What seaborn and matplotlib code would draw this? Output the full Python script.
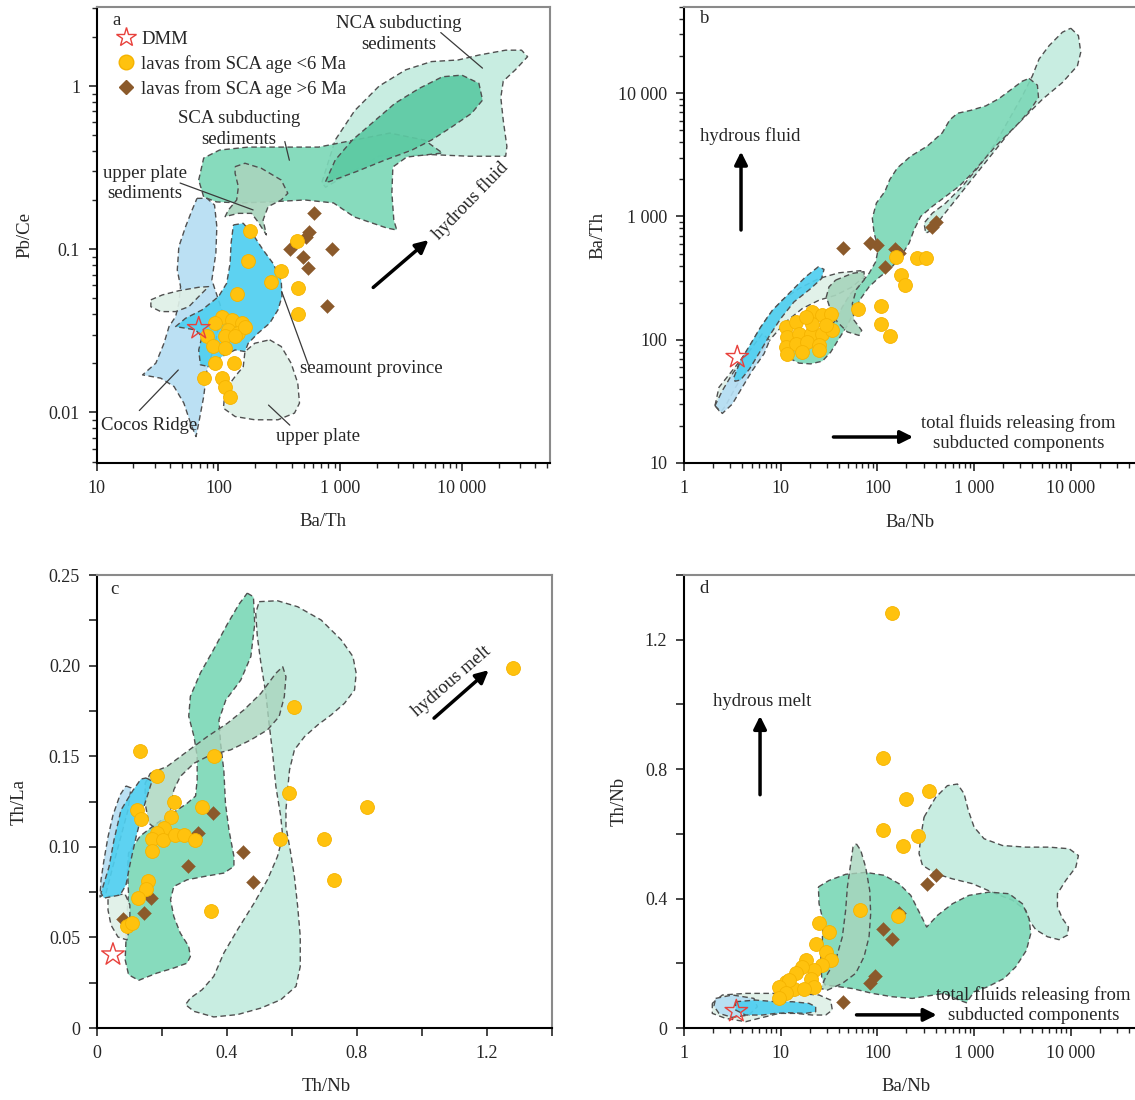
import numpy as np
import pandas as pd
import matplotlib
matplotlib.use("Agg")
import matplotlib.pyplot as plt
import seaborn as sns
from matplotlib.lines import Line2D
from matplotlib.ticker import FuncFormatter, MultipleLocator, NullFormatter

sns.set_style("ticks")
plt.rcParams['font.family'] = ['Liberation Serif', 'DejaVu Serif']
plt.rcParams['font.size'] = 13

TXT = 13.5

# ---------------- colours ----------------
COL_NCA_PALE = '#c4ecdf'
COL_SCA = '#7dd8b8'
COL_NCA_DARK = '#5ccaa3'
COL_UPS = '#a8d5bd'
COL_UP = '#dff0e8'
COL_COCOS = '#b5def3'
COL_SEAMOUNT = '#4fcff0'
YELLOW = '#ffc20e'
BROWN = '#8b5a2b'
STAR = '#e8413c'

# ================= PANEL a : Ba/Th vs Pb/Ce =================
A_YOUNG_BATH = [182, 176, 324, 272, 143, 441, 454, 454,
                107, 129, 155, 94, 121, 146, 165, 80.5, 114, 137, 91, 114, 94, 135, 76, 107, 114, 125]
A_YOUNG_PBCE = [0.129, 0.085, 0.074, 0.063, 0.053, 0.112, 0.058, 0.040,
                0.0386, 0.0369, 0.0352, 0.0352, 0.0321, 0.0306, 0.0336, 0.0292, 0.0292, 0.0292,
                0.0254, 0.0248, 0.020, 0.020, 0.0162, 0.0162, 0.0144, 0.0125]
A_OLD_BATH = [614, 558, 524, 384, 492, 541, 865, 787]
A_OLD_PBCE = [0.166, 0.128, 0.119, 0.101, 0.090, 0.0766, 0.100, 0.0446]
A_DMM = (68.9, 0.0328)

# field outlines, (log10 Ba/Th, log10 Pb/Ce)
A_NCA_OUTER = [(2.85, -0.59), (2.96, -0.33), (3.12, -0.15), (3.32, 0.0), (3.54, 0.10), (3.75, 0.15),
               (3.97, 0.16), (4.14, 0.19), (4.36, 0.22), (4.49, 0.22), (4.54, 0.18), (4.44, 0.10),
               (4.34, 0.03), (4.32, -0.07), (4.34, -0.21), (4.37, -0.37), (4.36, -0.43), (4.06, -0.43),
               (3.75, -0.42), (3.32, -0.43), (2.88, -0.62)]
A_NCA_INNER = [(2.88, -0.586), (2.96, -0.453), (3.10, -0.331), (3.26, -0.228), (3.45, -0.106),
               (3.65, -0.014), (3.84, 0.057), (4.00, 0.067), (4.14, 0.017), (4.17, -0.086),
               (4.08, -0.167), (3.92, -0.249), (3.75, -0.331), (3.59, -0.392), (3.37, -0.453),
               (3.13, -0.525), (2.91, -0.586)]
A_SCA = [(1.838, -0.576), (1.879, -0.441), (2.009, -0.392), (2.245, -0.374), (2.538, -0.374),
         (2.823, -0.374), (3.116, -0.331), (3.408, -0.288), (3.693, -0.331), (3.840, -0.410),
         (3.547, -0.435), (3.433, -0.496), (3.425, -0.655), (3.441, -0.821), (3.465, -0.882),
         (3.384, -0.870), (3.116, -0.802), (2.945, -0.716), (2.709, -0.698), (2.416, -0.710),
         (2.188, -0.716), (1.985, -0.710), (1.879, -0.680)]
A_UPS = [(2.137, -0.494), (2.218, -0.473), (2.353, -0.504), (2.516, -0.576), (2.570, -0.657),
         (2.516, -0.698), (2.408, -0.739), (2.367, -0.821), (2.394, -0.912), (2.326, -0.833),
         (2.272, -0.780), (2.164, -0.780), (2.055, -0.800), (2.082, -0.759), (2.150, -0.698),
         (2.164, -0.617), (2.137, -0.535)]
A_COCOS = [(1.824, -0.688), (1.906, -0.688), (1.968, -0.729), (1.987, -0.862), (1.979, -1.024),
           (1.946, -1.188), (2.028, -1.372), (1.974, -1.576), (1.906, -1.739), (1.879, -1.903),
           (1.838, -2.066), (1.816, -2.148), (1.771, -2.066), (1.716, -1.943), (1.635, -1.841),
           (1.526, -1.790), (1.377, -1.770), (1.486, -1.698), (1.553, -1.576), (1.594, -1.474),
           (1.648, -1.413), (1.675, -1.331), (1.689, -1.229), (1.662, -1.127), (1.675, -0.984),
           (1.730, -0.862), (1.784, -0.759)]
A_UP_SMALL = [(1.445, -1.310), (1.539, -1.280), (1.675, -1.254), (1.838, -1.233), (1.919, -1.229),
              (1.838, -1.290), (1.757, -1.352), (1.648, -1.382), (1.526, -1.382), (1.445, -1.352)]
A_UP = [(2.421, -1.555), (2.516, -1.596), (2.597, -1.698), (2.652, -1.821), (2.666, -1.943),
        (2.625, -2.004), (2.489, -2.045), (2.299, -2.045), (2.137, -2.025), (2.041, -1.974),
        (2.055, -1.862), (2.137, -1.780), (2.204, -1.719), (2.218, -1.627), (2.299, -1.576)]
A_SEAMOUNT = [(2.123, -0.851), (2.204, -0.841), (2.286, -0.912), (2.367, -1.004), (2.448, -1.086),
              (2.516, -1.188), (2.522, -1.290), (2.489, -1.372), (2.421, -1.453), (2.326, -1.514),
              (2.245, -1.576), (2.218, -1.627), (2.137, -1.617), (2.028, -1.658), (1.919, -1.719),
              (1.852, -1.708), (1.838, -1.617), (1.865, -1.535), (1.811, -1.494), (1.730, -1.484),
              (1.648, -1.474), (1.730, -1.423), (1.865, -1.372), (2.001, -1.290), (2.068, -1.208),
              (2.096, -1.086), (2.104, -0.963)]

# ================= PANEL b : Ba/Nb vs Ba/Th =================
B_YOUNG_BANB = [11.3, 14.3, 21.3, 27.0, 32.9, 11.7, 15.5, 20.4, 27.0, 34.2, 11.3, 14.3, 18.9, 24.9,
                11.7, 16.7, 24.9, 21.3, 29.2, 18.1, 63.6, 108, 108, 134, 155, 259, 316, 174, 193]
B_YOUNG_BATH = [127, 139, 168, 158, 163, 105, 112, 112, 112, 119, 87, 92.7, 95.7, 89.9,
                75.9, 79.2, 81.8, 135, 131, 153, 179, 187, 135, 108, 472, 457, 457, 334, 277]
B_OLD_BANB = [44.5, 84, 100, 152, 167, 119, 365, 401]
B_OLD_BATH = [552, 614, 587, 542, 502, 391, 818, 910]
B_DMM = (3.56, 72.2)

# field outlines, (log10 Ba/Nb, log10 Ba/Th)
B_NCA_PALE = [(4.0, 4.527), (4.079, 4.467), (4.103, 4.332), (4.069, 4.223), (3.914, 4.087),
              (3.707, 3.951), (3.534, 3.815), (3.362, 3.679), (3.224, 3.543), (3.086, 3.408),
              (2.948, 3.272), (2.810, 3.136), (2.672, 3.0), (2.569, 2.891), (2.5, 2.864),
              (2.483, 2.946), (2.569, 3.027), (2.707, 3.109), (2.879, 3.245), (3.052, 3.408),
              (3.224, 3.598), (3.362, 3.788), (3.5, 3.978), (3.603, 4.141), (3.672, 4.277),
              (3.776, 4.386), (3.914, 4.495)]
B_SCA = [(3.569, 4.120), (3.655, 4.065), (3.666, 3.965), (3.586, 3.870), (3.466, 3.761),
         (3.345, 3.666), (3.224, 3.571), (3.103, 3.462), (2.983, 3.353), (2.845, 3.245),
         (2.707, 3.163), (2.569, 3.082), (2.448, 3.0), (2.379, 2.891), (2.328, 2.783),
         (2.241, 2.674), (2.138, 2.579), (2.017, 2.505), (1.914, 2.429), (1.828, 2.334),
         (1.759, 2.226), (1.690, 2.117), (1.603, 2.008), (1.517, 1.899), (1.431, 1.826),
         (1.310, 1.804), (1.190, 1.810), (1.103, 1.845), (1.086, 1.913), (1.155, 1.967),
         (1.328, 2.022), (1.466, 2.076), (1.569, 2.158), (1.638, 2.266), (1.724, 2.375),
         (1.828, 2.457), (1.914, 2.538), (1.983, 2.633), (2.010, 2.742), (1.966, 2.864),
         (1.948, 2.986), (1.990, 3.109), (2.079, 3.204), (2.128, 3.299), (2.207, 3.394),
         (2.345, 3.489), (2.517, 3.571), (2.672, 3.679), (2.748, 3.783), (2.828, 3.837),
         (2.966, 3.861), (3.121, 3.897), (3.259, 3.957), (3.397, 4.038), (3.5, 4.098)]
B_UPS = [(1.569, 2.484), (1.741, 2.538), (1.862, 2.552), (1.866, 2.489), (1.783, 2.408),
         (1.741, 2.293), (1.759, 2.158), (1.838, 2.076), (1.810, 2.035), (1.690, 2.063),
         (1.586, 2.144), (1.517, 2.239), (1.472, 2.348), (1.5, 2.429)]
B_UP = [(0.321, 1.465), (0.362, 1.614), (0.5, 1.75), (0.638, 1.886), (0.776, 2.076), (0.879, 2.198),
        (1.017, 2.321), (1.190, 2.416), (1.397, 2.497), (1.603, 2.543), (1.828, 2.560),
        (1.862, 2.511), (1.741, 2.429), (1.569, 2.361), (1.397, 2.321), (1.224, 2.253),
        (1.052, 2.144), (0.914, 2.022), (0.776, 1.886), (0.638, 1.75), (0.534, 1.614),
        (0.431, 1.465), (0.379, 1.410)]
B_COCOS = [(0.321, 1.465), (0.397, 1.402), (0.5, 1.478), (0.603, 1.614), (0.707, 1.75), (0.828, 1.886),
           (0.886, 1.995), (0.810, 2.049), (0.707, 1.940), (0.603, 1.832), (0.5, 1.723), (0.397, 1.587)]
B_SEAMOUNT = [(0.517, 1.696), (0.586, 1.832), (0.690, 1.967), (0.793, 2.103), (0.914, 2.239),
              (1.086, 2.375), (1.259, 2.511), (1.390, 2.592), (1.448, 2.571), (1.424, 2.497),
              (1.3, 2.408), (1.138, 2.307), (1.0, 2.171), (0.886, 2.035), (0.783, 1.899),
              (0.679, 1.764), (0.586, 1.674), (0.528, 1.663)]

# ================= PANEL c : Th/Nb vs Th/La =================
C_YOUNG_THNB = [1.279, 0.606, 0.132, 0.362, 0.186, 0.590, 0.831, 0.238, 0.323, 0.124, 0.137, 0.230,
                0.208, 0.186, 0.170, 0.205, 0.241, 0.268, 0.301, 0.170, 0.564, 0.699, 0.729, 0.351,
                0.159, 0.153, 0.126, 0.093, 0.110]
C_YOUNG_THLA = [0.1987, 0.1769, 0.1527, 0.1502, 0.1390, 0.1295, 0.1217, 0.1246, 0.1217, 0.1202,
                0.1153, 0.1163, 0.1105, 0.1076, 0.1041, 0.1037, 0.1066, 0.1066, 0.1037, 0.0979,
                0.1045, 0.1045, 0.0818, 0.0643, 0.0814, 0.0766, 0.0717, 0.0562, 0.0581]
C_OLD_THNB = [0.358, 0.311, 0.281, 0.449, 0.480, 0.168, 0.144, 0.082]
C_OLD_THLA = [0.1186, 0.1075, 0.0892, 0.0969, 0.0805, 0.0717, 0.0634, 0.0601]
C_DMM = (0.050, 0.0405)

C_SCA = [(0.463, 0.240), (0.482, 0.238), (0.486, 0.223), (0.474, 0.205), (0.443, 0.192), (0.397, 0.181),
         (0.376, 0.170), (0.381, 0.157), (0.391, 0.142), (0.396, 0.124), (0.407, 0.109), (0.422, 0.0947),
         (0.422, 0.0892), (0.391, 0.0855), (0.330, 0.0836), (0.278, 0.0818), (0.237, 0.0781),
         (0.227, 0.0708), (0.237, 0.0616), (0.257, 0.0524), (0.283, 0.0450), (0.288, 0.0395),
         (0.278, 0.0358), (0.237, 0.0331), (0.185, 0.0303), (0.129, 0.0263), (0.098, 0.0294),
         (0.0875, 0.0377), (0.0906, 0.0506), (0.0927, 0.0616), (0.0978, 0.0744), (0.0947, 0.0873),
         (0.0978, 0.0965), (0.134, 0.106), (0.185, 0.113), (0.237, 0.119), (0.278, 0.124),
         (0.304, 0.128), (0.309, 0.137), (0.309, 0.150), (0.299, 0.161), (0.283, 0.172),
         (0.288, 0.183), (0.319, 0.196), (0.360, 0.209), (0.402, 0.223), (0.438, 0.234)]
C_NCA_PALE = [(0.4995, 0.2353), (0.556, 0.2358), (0.618, 0.2325), (0.690, 0.2252), (0.752, 0.2142),
              (0.788, 0.2050), (0.798, 0.1958), (0.793, 0.1866), (0.762, 0.1792), (0.721, 0.1728),
              (0.680, 0.1673), (0.639, 0.1608), (0.608, 0.1535), (0.593, 0.1425), (0.587, 0.1314),
              (0.582, 0.1204), (0.582, 0.1112), (0.595, 0.0983), (0.608, 0.0836), (0.618, 0.0671),
              (0.626, 0.0506), (0.626, 0.0340), (0.613, 0.0230), (0.566, 0.0156), (0.505, 0.0110),
              (0.433, 0.0074), (0.360, 0.0061), (0.299, 0.0092), (0.273, 0.0129), (0.288, 0.0165),
              (0.324, 0.0211), (0.360, 0.0285), (0.391, 0.0414), (0.433, 0.0542), (0.484, 0.0689),
              (0.525, 0.0818), (0.556, 0.0947), (0.572, 0.1057), (0.566, 0.1167), (0.551, 0.1333),
              (0.541, 0.1517), (0.530, 0.1682), (0.520, 0.1847), (0.505, 0.2013), (0.494, 0.2160),
              (0.489, 0.2289)]
C_UPS = [(0.165, 0.1406), (0.216, 0.1443), (0.278, 0.1526), (0.340, 0.1608), (0.402, 0.1682),
         (0.453, 0.1756), (0.505, 0.1847), (0.551, 0.1958), (0.572, 0.1994), (0.582, 0.1939),
         (0.577, 0.1829), (0.561, 0.1719), (0.525, 0.1645), (0.474, 0.1590), (0.412, 0.1535),
         (0.350, 0.1507), (0.299, 0.1461), (0.257, 0.1388), (0.237, 0.1314), (0.227, 0.1204),
         (0.211, 0.1112), (0.185, 0.1094), (0.160, 0.1131), (0.149, 0.1241), (0.149, 0.1351)]
C_COCOS = [(0.0901, 0.1336), (0.1055, 0.1325), (0.0962, 0.1203), (0.0717, 0.1038), (0.0470, 0.0872),
           (0.0286, 0.0745), (0.0101, 0.0723), (0.0132, 0.0817), (0.0224, 0.0927), (0.0347, 0.1054),
           (0.0501, 0.1175), (0.0717, 0.1286)]
C_SEAMOUNT = [(0.152, 0.1380), (0.170, 0.1363), (0.142, 0.1203), (0.121, 0.1054), (0.102, 0.0900),
              (0.090, 0.0789), (0.072, 0.0734), (0.0225, 0.0717), (0.0132, 0.0745), (0.0378, 0.0889),
              (0.0532, 0.1038), (0.0747, 0.1203), (0.112, 0.1313), (0.136, 0.1374)]
C_UP = [(0.0348, 0.0728), (0.087, 0.0740), (0.102, 0.0679), (0.102, 0.0568), (0.0932, 0.0486),
        (0.0655, 0.0502), (0.0440, 0.0568), (0.0348, 0.0651)]

# ================= PANEL d : Ba/Nb vs Th/Nb =================
D_YOUNG_BANB = [141, 113, 339, 199, 113, 262, 186, 66.2, 163,
                24.9, 31.6, 23.0, 29.2, 32.9, 18.2, 27.0, 22.1, 16.7, 14.3, 11.3, 13.7, 12.2, 9.6,
                11.3, 9.6, 20.4, 22.1, 17.4]
D_YOUNG_THNB = [1.283, 0.833, 0.732, 0.707, 0.612, 0.592, 0.563, 0.366, 0.347,
                0.323, 0.297, 0.261, 0.235, 0.210, 0.210, 0.194, 0.179, 0.189, 0.169, 0.143, 0.122,
                0.148, 0.127, 0.107, 0.0915, 0.153, 0.127, 0.122]
D_OLD_BANB = [401, 329, 167, 115, 141, 94.6, 83.4, 44.2]
D_OLD_THNB = [0.472, 0.446, 0.354, 0.307, 0.276, 0.160, 0.140, 0.0812]
D_DMM = (3.48, 0.052)

# (log10 Ba/Nb, Th/Nb)
D_NCA_PALE = [(2.483, 0.652), (2.603, 0.713), (2.724, 0.749), (2.828, 0.754), (2.897, 0.724),
              (2.941, 0.672), (3.0, 0.621), (3.103, 0.585), (3.293, 0.564), (3.534, 0.559),
              (3.776, 0.559), (3.983, 0.554), (4.079, 0.533), (4.052, 0.497), (3.948, 0.456),
              (3.862, 0.415), (3.862, 0.374), (3.914, 0.338), (3.976, 0.312), (3.966, 0.287),
              (3.879, 0.273), (3.759, 0.282), (3.638, 0.304), (3.569, 0.333), (3.534, 0.364),
              (3.397, 0.395), (3.224, 0.415), (2.983, 0.446), (2.776, 0.461), (2.603, 0.477),
              (2.466, 0.503), (2.431, 0.539), (2.448, 0.590)]
D_SCA = [(1.390, 0.436), (1.5, 0.456), (1.672, 0.475), (1.879, 0.481), (2.069, 0.472), (2.224, 0.446),
         (2.345, 0.410), (2.431, 0.359), (2.510, 0.312), (2.621, 0.348), (2.776, 0.384), (2.948, 0.410),
         (3.155, 0.420), (3.362, 0.415), (3.5, 0.384), (3.569, 0.338), (3.586, 0.292), (3.541, 0.240),
         (3.431, 0.189), (3.310, 0.153), (3.138, 0.127), (3.0, 0.112), (2.921, 0.0781), (2.845, 0.0863),
         (2.690, 0.107), (2.517, 0.0987), (2.362, 0.0915), (2.155, 0.0966), (1.948, 0.107),
         (1.741, 0.122), (1.569, 0.129), (1.459, 0.133), (1.424, 0.158), (1.414, 0.210),
         (1.431, 0.271), (1.438, 0.333), (1.397, 0.384)]
D_UPS = [(1.783, 0.569), (1.828, 0.549), (1.879, 0.497), (1.921, 0.425), (1.931, 0.354), (1.914, 0.282),
         (1.862, 0.220), (1.776, 0.169), (1.638, 0.138), (1.483, 0.117), (1.414, 0.122), (1.466, 0.158),
         (1.569, 0.210), (1.638, 0.282), (1.672, 0.364), (1.690, 0.436), (1.724, 0.508), (1.748, 0.559)]
D_UP = [(0.293, 0.0761), (0.397, 0.102), (0.638, 0.107), (0.914, 0.107), (1.155, 0.107), (1.397, 0.102),
        (1.517, 0.0863), (1.534, 0.0555), (1.466, 0.0401), (1.328, 0.0401), (1.155, 0.0452),
        (0.983, 0.0452), (0.776, 0.0298), (0.638, 0.0195), (0.431, 0.0298), (0.293, 0.0452)]
D_COCOS = [(0.328, 0.0915), (0.5, 0.102), (0.724, 0.0915), (0.759, 0.0658), (0.672, 0.0401),
           (0.5, 0.0329), (0.362, 0.0452), (0.310, 0.0678)]
D_SEAMOUNT = [(0.534, 0.0812), (0.741, 0.0863), (0.948, 0.0812), (1.121, 0.0812), (1.293, 0.0761),
              (1.362, 0.0658), (1.362, 0.0504), (1.259, 0.0452), (1.086, 0.0473), (0.948, 0.0452),
              (0.810, 0.0401), (0.638, 0.0401), (0.534, 0.0555)]

LEGEND_LABELS = ['DMM', 'lavas from SCA age <6 Ma', 'lavas from SCA age >6 Ma']


# ---------------- helpers ----------------
def draw_field(ax, pts, color, z, logx=True, logy=True, alpha=0.92):
    arr = np.array(pts, dtype=float)
    xs = np.power(10.0, arr[:, 0]) if logx else arr[:, 0]
    ys = np.power(10.0, arr[:, 1]) if logy else arr[:, 1]
    ax.fill(xs, ys, facecolor=color, edgecolor='none', alpha=alpha, zorder=z)
    ax.plot(np.append(xs, xs[0]), np.append(ys, ys[0]), ls=(0, (4, 2.5)), color='#505050',
            lw=1.0, zorder=z + 0.1)


def draw_points(ax, xy, xy_old, dmm):
    df_old = pd.DataFrame({'x': xy_old[0], 'y': xy_old[1]})
    sns.scatterplot(data=df_old, x='x', y='y', ax=ax, marker='D', s=50, color=BROWN,
                    edgecolor=BROWN, linewidth=0.3, zorder=6, legend=False)
    df_young = pd.DataFrame({'x': xy[0], 'y': xy[1]})
    sns.scatterplot(data=df_young, x='x', y='y', ax=ax, marker='o', s=100, color=YELLOW,
                    edgecolor='#f5b300', linewidth=0.6, zorder=7, legend=False)
    df_dmm = pd.DataFrame({'x': [dmm[0]], 'y': [dmm[1]]})
    sns.scatterplot(data=df_dmm, x='x', y='y', ax=ax, marker='*', s=290, facecolor='none',
                    edgecolor=STAR, linewidth=1.0, zorder=8, legend=False)


def thousands(v, pos):
    if v >= 1:
        return f"{int(round(v)):,}".replace(',', ' ')
    return f"{v:g}"


def step_label(step, decimals):
    def f(v, pos):
        if abs(v / step - round(v / step)) > 1e-6:
            return ''
        return '0' if abs(v) < 1e-9 else f"{v:.{decimals}f}"
    return FuncFormatter(f)


def style_axes(ax):
    for s in ['left', 'bottom']:
        ax.spines[s].set_color('black')
        ax.spines[s].set_linewidth(1.5)
    for s in ['top', 'right']:
        ax.spines[s].set_color('#8a8a8a')
        ax.spines[s].set_linewidth(1.5)
        ax.spines[s].set_visible(True)
    ax.tick_params(which='major', direction='out', length=6, width=1.2, pad=6,
                   labelsize=13, top=False, right=False)
    ax.tick_params(which='minor', direction='out', length=3.5, width=1.0, top=False, right=False)
    ax.xaxis.label.set_size(TXT)
    ax.yaxis.label.set_size(TXT)


def arrow(ax, p0, p1):
    ax.annotate('', xy=p1, xytext=p0, xycoords='axes fraction', textcoords='axes fraction',
                arrowprops=dict(arrowstyle='-|>', color='black', lw=2.5, mutation_scale=19,
                                shrinkA=0, shrinkB=0), zorder=9)


def leader(ax, p0, p1):
    ax.plot([p0[0], p1[0]], [p0[1], p1[1]], transform=ax.transAxes, color='#3a3a3a', lw=0.9,
            zorder=9)


def label(ax, x, y, s, spacing=1.3, **kw):
    ax.text(x, y, s, transform=ax.transAxes, ha='center', va='center', fontsize=TXT,
            linespacing=spacing, zorder=10, **kw)


fig = plt.figure(figsize=(11.35, 11.0), dpi=100)
axA = fig.add_axes([0.0852, 0.5791, 0.3994, 0.4145])
axB = fig.add_axes([0.6026, 0.5791, 0.3991, 0.4145])
axC = fig.add_axes([0.0852, 0.06545, 0.4011, 0.4118])
axD = fig.add_axes([0.6026, 0.06545, 0.3991, 0.4118])

# ---------------- panel a ----------------
ax = axA
ax.set_xscale('log'); ax.set_yscale('log')
draw_field(ax, A_NCA_OUTER, COL_NCA_PALE, 1)
draw_field(ax, A_SCA, COL_SCA, 2)
draw_field(ax, A_NCA_INNER, COL_NCA_DARK, 3)
draw_field(ax, A_UPS, COL_UPS, 4)
draw_field(ax, A_UP, COL_UP, 4)
draw_field(ax, A_COCOS, COL_COCOS, 4.3)
draw_field(ax, A_UP_SMALL, COL_UP, 4.6)
draw_field(ax, A_SEAMOUNT, COL_SEAMOUNT, 5)
draw_points(ax, (A_YOUNG_BATH, A_YOUNG_PBCE), (A_OLD_BATH, A_OLD_PBCE), A_DMM)
ax.set_xlim(10, 53000); ax.set_ylim(0.0049, 3.05)
ax.set_xlabel('Ba/Th'); ax.set_ylabel('Pb/Ce')
ax.xaxis.set_label_coords(0.5, -0.11); ax.yaxis.set_label_coords(-0.14, 0.5)
ax.xaxis.set_major_formatter(FuncFormatter(thousands))
ax.yaxis.set_major_formatter(FuncFormatter(thousands))
ax.xaxis.set_minor_formatter(NullFormatter()); ax.yaxis.set_minor_formatter(NullFormatter())
style_axes(ax)
label(ax, 0.043, 0.971, 'a')
handles = [Line2D([], [], ls='', marker='*', markersize=15, mfc='none', mec=STAR, mew=1.0),
           Line2D([], [], ls='', marker='o', markersize=10.5, mfc=YELLOW, mec='#f5b300'),
           Line2D([], [], ls='', marker='D', markersize=7, mfc=BROWN, mec=BROWN)]
ax.legend(handles=handles, labels=LEGEND_LABELS, loc='upper left', bbox_to_anchor=(0.045, 0.948),
          frameon=False, handlelength=1.0, handletextpad=0.3, labelspacing=0.38, borderpad=0,
          borderaxespad=0, fontsize=TXT)
label(ax, 0.666, 0.941, 'NCA subducting\nsediments')
leader(ax, (0.759, 0.944), (0.851, 0.866))
label(ax, 0.314, 0.733, 'SCA subducting\nsediments')
leader(ax, (0.415, 0.705), (0.425, 0.664))
label(ax, 0.106, 0.613, 'upper plate\nsediments')
leader(ax, (0.184, 0.614), (0.345, 0.555))
label(ax, 0.606, 0.208, 'seamount province')
leader(ax, (0.408, 0.376), (0.467, 0.215))
label(ax, 0.116, 0.083, 'Cocos Ridge')
leader(ax, (0.094, 0.115), (0.180, 0.204))
label(ax, 0.488, 0.058, 'upper plate')
leader(ax, (0.379, 0.127), (0.426, 0.083))
arrow(ax, (0.610, 0.385), (0.732, 0.489))
label(ax, 0.824, 0.575, 'hydrous fluid', rotation=46, rotation_mode='anchor')

# ---------------- panel b ----------------
ax = axB
ax.set_xscale('log'); ax.set_yscale('log')
draw_field(ax, B_NCA_PALE, COL_NCA_PALE, 1)
draw_field(ax, B_SCA, COL_SCA, 2)
draw_field(ax, B_UP, COL_UP, 3)
draw_field(ax, B_UPS, COL_UPS, 3.5)
draw_field(ax, B_COCOS, COL_COCOS, 4)
draw_field(ax, B_SEAMOUNT, COL_SEAMOUNT, 5)
draw_points(ax, (B_YOUNG_BANB, B_YOUNG_BATH), (B_OLD_BANB, B_OLD_BATH), B_DMM)
ax.set_xlim(1, 48300); ax.set_ylim(10, 50000)
ax.set_xlabel('Ba/Nb'); ax.set_ylabel('Ba/Th')
ax.xaxis.set_label_coords(0.5, -0.112); ax.yaxis.set_label_coords(-0.172, 0.5)
ax.xaxis.set_major_formatter(FuncFormatter(thousands))
ax.yaxis.set_major_formatter(FuncFormatter(thousands))
ax.xaxis.set_minor_formatter(NullFormatter()); ax.yaxis.set_minor_formatter(NullFormatter())
style_axes(ax)
label(ax, 0.046, 0.975, 'b')
label(ax, 0.146, 0.716, 'hydrous fluid')
arrow(ax, (0.126, 0.511), (0.126, 0.683))
label(ax, 0.738, 0.066, 'total fluids releasing from\nsubducted components', spacing=1.25)
arrow(ax, (0.330, 0.057), (0.506, 0.057))

# ---------------- panel c ----------------
ax = axC
draw_field(ax, C_NCA_PALE, COL_NCA_PALE, 1, logx=False, logy=False)
draw_field(ax, C_SCA, COL_SCA, 2, logx=False, logy=False)
draw_field(ax, C_UPS, COL_UPS, 3, logx=False, logy=False, alpha=0.8)
draw_field(ax, C_UP, COL_UP, 3.5, logx=False, logy=False)
draw_field(ax, C_COCOS, COL_COCOS, 4, logx=False, logy=False)
draw_field(ax, C_SEAMOUNT, COL_SEAMOUNT, 5, logx=False, logy=False)
draw_points(ax, (C_YOUNG_THNB, C_YOUNG_THLA), (C_OLD_THNB, C_OLD_THLA), C_DMM)
ax.set_xlim(0, 1.4); ax.set_ylim(0, 0.25)
ax.set_xlabel('Th/Nb'); ax.set_ylabel('Th/La')
ax.xaxis.set_label_coords(0.505, -0.111); ax.yaxis.set_label_coords(-0.151, 0.5)
ax.xaxis.set_major_locator(MultipleLocator(0.2))
ax.yaxis.set_major_locator(MultipleLocator(0.025))
ax.xaxis.set_major_formatter(step_label(0.4, 1))
ax.yaxis.set_major_formatter(step_label(0.05, 2))
style_axes(ax)
label(ax, 0.040, 0.968, 'c')
arrow(ax, (0.741, 0.684), (0.861, 0.790))
label(ax, 0.780, 0.766, 'hydrous melt', rotation=41, rotation_mode='anchor')

# ---------------- panel d ----------------
ax = axD
ax.set_xscale('log')
draw_field(ax, D_NCA_PALE, COL_NCA_PALE, 1, logy=False)
draw_field(ax, D_SCA, COL_SCA, 2, logy=False)
draw_field(ax, D_UPS, COL_UPS, 3, logy=False, alpha=0.8)
draw_field(ax, D_UP, COL_UP, 3.5, logy=False)
draw_field(ax, D_COCOS, COL_COCOS, 4, logy=False)
draw_field(ax, D_SEAMOUNT, COL_SEAMOUNT, 5, logy=False)
draw_points(ax, (D_YOUNG_BANB, D_YOUNG_THNB), (D_OLD_BANB, D_OLD_THNB), D_DMM)
ax.set_xlim(1, 48300); ax.set_ylim(0, 1.4)
ax.set_xlabel('Ba/Nb'); ax.set_ylabel('Th/Nb')
ax.xaxis.set_label_coords(0.49, -0.111); ax.yaxis.set_label_coords(-0.125, 0.5)
ax.xaxis.set_major_formatter(FuncFormatter(thousands))
ax.xaxis.set_minor_formatter(NullFormatter())
ax.yaxis.set_major_locator(MultipleLocator(0.2))
ax.yaxis.set_major_formatter(step_label(0.4, 1))
style_axes(ax)
label(ax, 0.044, 0.970, 'd')
label(ax, 0.173, 0.720, 'hydrous melt')
arrow(ax, (0.168, 0.515), (0.168, 0.689))
label(ax, 0.771, 0.051, 'total fluids releasing from\nsubducted components', spacing=1.25)
arrow(ax, (0.381, 0.029), (0.558, 0.029))

fig.savefig('out.png', dpi=100)
